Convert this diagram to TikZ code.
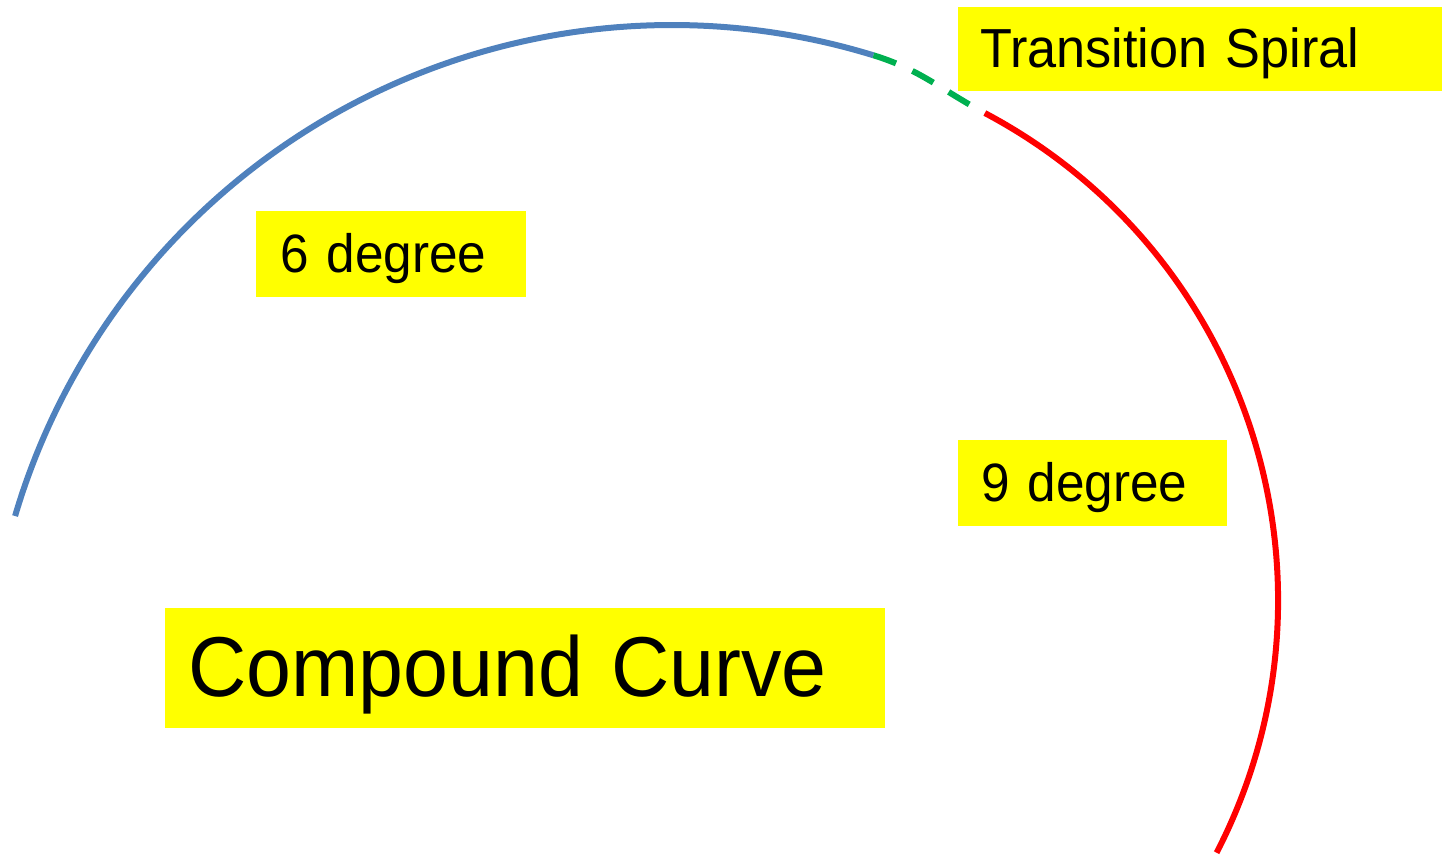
\documentclass[tikz,border=0pt]{standalone}
\usepackage{fontspec}
\setmainfont{Liberation Sans}[FakeStretch=0.95]
\usetikzlibrary{calc}
\definecolor{arcblue}{RGB}{79,129,189}
\definecolor{spiralgreen}{RGB}{0,176,80}
\definecolor{arcred}{RGB}{255,0,0}
\definecolor{boxyellow}{RGB}{255,255,0}
\tikzset{
  curvepath/.style={line width=6pt},
  bluecurve/.style={curvepath, draw=arcblue},
  redcurve/.style={curvepath, draw=arcred},
  spiralcurve/.style={curvepath, draw=spiralgreen, dash pattern=on 24pt off 18pt},
  labelbox/.style={fill=boxyellow, draw=none, anchor=base west, inner ysep=0pt, align=left},
}
\begin{document}
\begin{tikzpicture}[x=1pt,y=1pt]
\useasboundingbox (0,0) rectangle (1442,858);
% arcs
\coordinate (bc) at (672,148);
\coordinate (rc) at (727,258);
\coordinate (bS) at ($(bc)+(163.55:685pt)$);
\coordinate (bE) at ($(bc)+(72.9:685pt)$);
\coordinate (rS) at ($(rc)+(62.1:551pt)$);
\coordinate (rE) at ($(rc)+(-27.3:551pt)$);
\draw[bluecurve] (bS) arc[start angle=163.55, end angle=72.9, radius=685pt];
\draw[redcurve] (rS) arc[start angle=62.1, end angle=-27.3, radius=551pt];
\draw[spiralcurve] (bE) to[out=-17, in=152] (rS);
% labels
\node[labelbox, inner xsep=22pt, text width=440pt, text height=61pt, text depth=23pt,
      font=\fontsize{55}{60}\selectfont] (ts) at (958,790) {Transition Spiral};
\node[labelbox, inner xsep=24pt, text width=222pt, text height=62pt, text depth=24pt,
      font=\fontsize{54}{60}\selectfont] (six) at (256,585) {6 degree};
\node[labelbox, inner xsep=23pt, text width=223pt, text height=62pt, text depth=24pt,
      font=\fontsize{54}{60}\selectfont] (nine) at (958,356) {9 degree};
\node[labelbox, inner xsep=23pt, text width=674pt, text height=89pt, text depth=31pt,
      font=\fontsize{85}{90}\selectfont] (cc) at (165,161) {Compound Curve};
\end{tikzpicture}
\end{document}
